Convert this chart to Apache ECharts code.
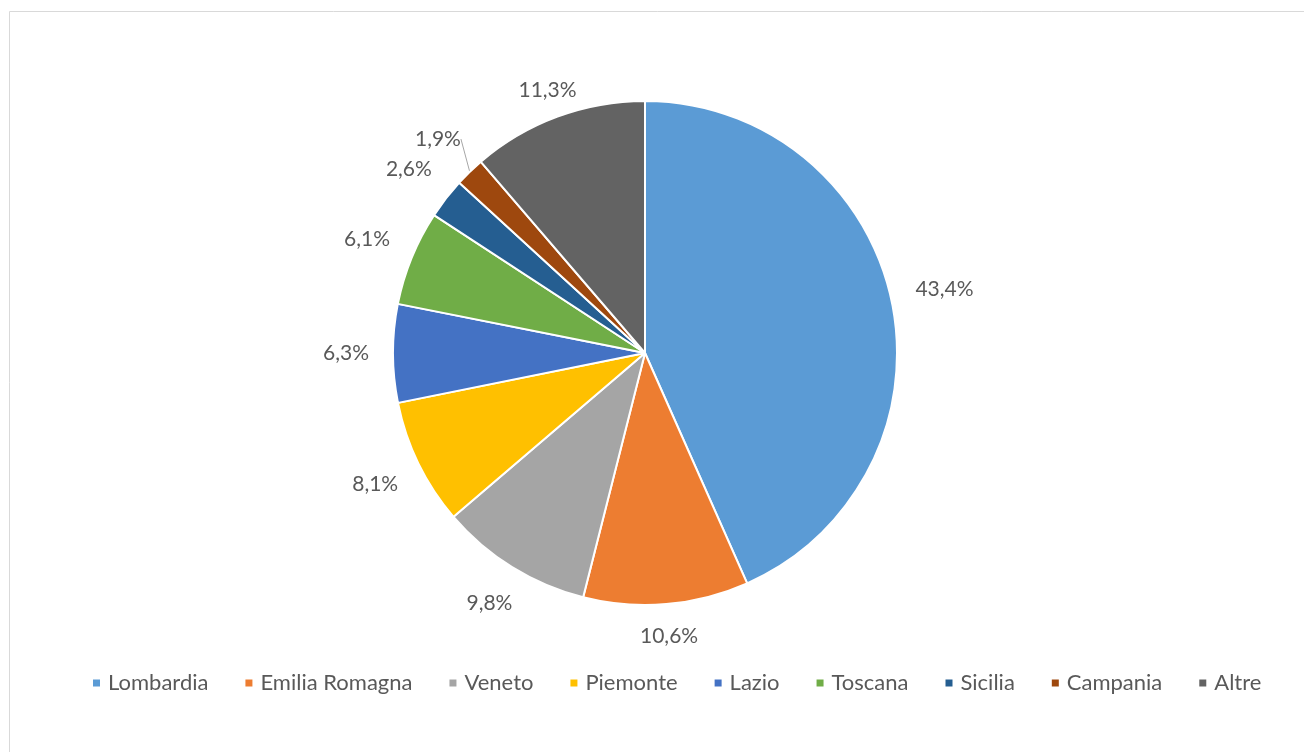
<!DOCTYPE html>
<html><head><meta charset="utf-8">
<script src="https://cdn.jsdelivr.net/npm/echarts@6/dist/echarts.min.js"></script>
<style>html,body{margin:0;padding:0;background:#fff}#c{width:1304px;height:752px}</style>
</head><body><div id="c"></div>
<script>
const categories = ['Lombardia','Emilia Romagna','Veneto','Piemonte','Lazio','Toscana','Sicilia','Campania','Altre'];
const values = [43.4, 10.6, 9.8, 8.1, 6.3, 6.1, 2.6, 1.9, 11.3];
const colors = ['#5B9BD5','#ED7D31','#A5A5A5','#FFC000','#4472C4','#70AD47','#255E91','#9E480E','#636363'];
const FONT = 'Lato, "Open Sans", sans-serif';
const TEXT = '#595959';

const chart = echarts.init(document.getElementById('c'), null, {renderer:'canvas'});
const gapByIndex = {8: -13, 1: -2};
chart.setOption({
  animation: false,
  color: colors,
  graphic: [{type:'rect', shape:{x:9.5, y:11.5, width:1300, height:750}, style:{fill:'none', stroke:'#d9d9d9', lineWidth:1}, silent:true}],
  legend: {
    left: 86, top: 667, itemWidth: 9, itemHeight: 9, itemGap: 35, icon: 'rect',
    textStyle: {color: TEXT, fontSize: 22, fontFamily: FONT, padding:[0,0,0,2]},
    data: categories
  },
  series: [{
    type: 'pie',
    center: [645, 353], radius: 252,
    startAngle: 90, clockwise: true,
    itemStyle: {borderColor: '#fff', borderWidth: 2},
    label: {
      show: true, position: 'outside', color: TEXT, fontSize: 21, fontFamily: FONT,
      formatter: p => p.value.toFixed(1).replace('.', ',') + '%'
    },
    labelLine: {show: false, length: 10, length2: 0, lineStyle: {color: '#a6a6a6', width: 1}},
    labelLayout: function (p) {
      const pts = p.labelLinePoints;
      if (!pts) return {};
      const p0 = pts[0], p1 = pts[1];
      let dx = p1[0]-p0[0], dy = p1[1]-p0[1];
      const l = Math.hypot(dx, dy) || 1; dx/=l; dy/=l;
      const w = p.labelRect.width, h = 16;
      const ext = Math.abs(dx)*w/2 + Math.abs(dy)*h/2;
      const g = 24 + (gapByIndex[p.dataIndex] || 0);
      const cx = p0[0] + dx*(g+ext), cy = p0[1] + dy*(g+ext);
      return {x: cx, y: cy, align: 'center', verticalAlign: 'middle'};
    },
    data: categories.map((n, i) => ({
      name: n, value: values[i],
      labelLine: i === 7 ? {show: true} : undefined
    }))
  }]
});
</script></body></html>
